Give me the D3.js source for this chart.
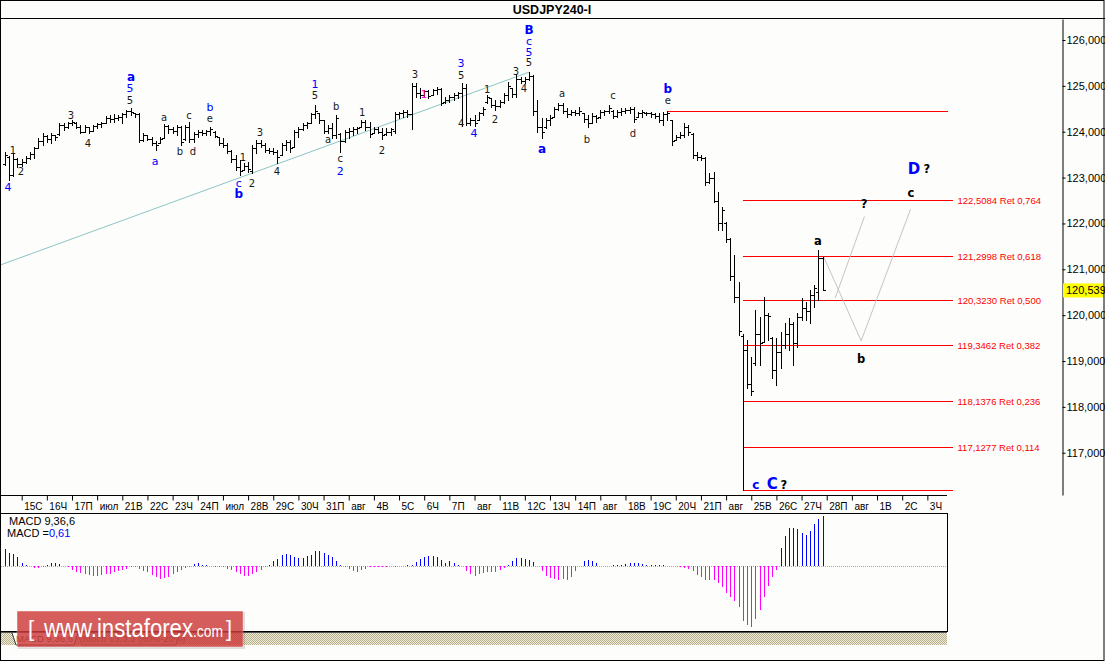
<!DOCTYPE html>
<html><head><meta charset="utf-8">
<script src="https://cdn.jsdelivr.net/npm/d3@7"></script>
<style>
html,body{margin:0;padding:0;background:#fff;}
svg{display:block;font-family:"Liberation Sans",Arial,sans-serif;}
</style></head><body>
<svg id="c" width="1105" height="661"></svg>
<script>
// ---------- DATA ----------
const opens=[123.30,123.45,123.06,123.40,123.30,123.35,123.42,123.52,123.65,123.80,123.90,123.85,123.92,123.95,124.15,124.10,124.18,124.20,124.10,124.00,
124.10,124.02,124.12,124.16,124.19,124.30,124.28,124.30,124.32,124.38,124.45,124.40,124.38,123.82,123.92,123.85,123.75,123.76,123.86,124.12,
124.05,124.02,124.10,123.84,124.10,123.85,123.95,124.00,123.98,124.02,124.00,123.88,123.75,123.72,123.58,123.40,123.22,123.17,123.25,123.15,
123.65,123.75,123.72,123.60,123.58,123.55,123.50,123.70,123.78,123.67,124.00,124.05,124.15,124.19,124.38,124.40,124.25,124.02,124.08,123.92,
123.95,123.80,124.00,124.02,124.05,124.10,124.22,124.10,123.98,124.05,124.00,123.95,124.00,124.02,124.38,124.40,124.42,124.38,125.00,124.85,
124.80,124.88,124.80,124.90,124.93,124.65,124.70,124.75,124.80,124.84,124.95,124.20,124.25,124.25,124.40,124.65,124.74,124.58,124.55,124.65,
124.80,124.95,124.82,125.15,125.10,125.15,125.22,124.45,124.10,124.10,124.25,124.32,124.50,124.58,124.45,124.38,124.42,124.40,124.40,124.28,
124.20,124.35,124.32,124.42,124.45,124.45,124.35,124.42,124.45,124.48,124.50,124.32,124.40,124.40,124.40,124.38,124.34,124.25,124.38,124.25,
123.82,123.88,123.92,124.10,123.95,123.50,123.45,123.42,122.90,123.00,122.50,122.00,122.00,121.65,120.85,120.40,119.55,119.25,118.50,118.95,
119.60,119.42,120.00,119.50,118.80,119.20,119.35,119.60,119.80,119.40,119.95,120.15,120.10,120.45,120.50,121.25];
const highs=[123.56,123.48,123.51,123.43,123.41,123.47,123.56,123.67,123.86,123.97,123.93,123.97,123.93,124.19,124.19,124.21,124.25,124.21,124.15,124.15,
124.10,124.15,124.19,124.21,124.34,124.36,124.39,124.36,124.41,124.47,124.52,124.41,124.41,123.97,123.93,123.88,123.80,123.88,124.17,124.15,
124.10,124.15,124.12,124.15,124.21,123.99,124.04,124.04,124.04,124.10,124.01,123.88,123.86,123.75,123.60,123.49,123.38,123.32,123.34,123.71,
123.82,123.82,123.75,123.64,123.64,123.60,123.75,123.82,123.82,124.04,124.10,124.19,124.21,124.41,124.58,124.41,124.25,124.15,124.19,124.36,
123.97,124.04,124.08,124.10,124.10,124.25,124.25,124.21,124.10,124.10,124.08,124.08,124.08,124.43,124.43,124.47,124.47,125.06,125.06,124.95,
124.91,124.91,124.93,124.97,124.95,124.76,124.80,124.84,124.87,125.06,125.04,124.30,124.36,124.43,124.54,124.80,124.74,124.69,124.69,124.84,
125.08,124.95,125.24,125.19,125.19,125.30,125.24,124.69,124.30,124.30,124.36,124.54,124.63,124.63,124.52,124.47,124.47,124.54,124.41,124.36,
124.41,124.36,124.47,124.47,124.58,124.47,124.47,124.52,124.52,124.54,124.54,124.43,124.47,124.43,124.43,124.41,124.41,124.43,124.46,124.25,
123.93,123.99,124.19,124.15,123.97,123.56,123.49,123.45,123.10,123.12,122.69,122.36,122.03,121.68,121.31,120.72,119.60,119.46,119.09,120.11,
119.96,120.40,120.05,119.52,119.50,119.63,119.83,119.94,119.85,120.05,120.37,120.29,120.55,120.66,121.42,121.27];
const lows=[123.27,122.95,123.04,123.23,123.25,123.32,123.40,123.43,123.64,123.71,123.77,123.75,123.82,123.93,124.04,124.08,124.15,124.08,123.97,123.99,
123.97,124.01,124.08,124.10,124.19,124.21,124.21,124.25,124.19,124.32,124.36,124.32,123.78,123.80,123.82,123.71,123.60,123.75,123.86,123.97,
123.97,123.93,123.71,123.82,123.78,123.78,123.88,123.93,123.93,123.93,123.88,123.71,123.67,123.54,123.34,123.16,123.06,123.16,123.12,123.10,
123.54,123.67,123.56,123.54,123.51,123.32,123.49,123.60,123.56,123.67,123.88,124.04,124.08,124.19,124.30,124.19,123.97,123.97,123.86,123.86,
123.56,123.78,123.86,123.93,123.97,124.10,124.04,123.88,123.97,123.97,123.84,123.93,123.93,123.97,124.30,124.32,124.32,124.06,124.76,124.74,
124.76,124.74,124.80,124.82,124.58,124.63,124.65,124.69,124.74,124.12,124.15,124.15,124.12,124.25,124.36,124.63,124.54,124.47,124.54,124.63,
124.69,124.76,124.76,125.06,125.06,125.13,124.36,123.99,123.86,124.08,124.15,124.32,124.47,124.41,124.32,124.36,124.36,124.36,124.21,124.10,
124.19,124.21,124.30,124.36,124.41,124.30,124.32,124.36,124.41,124.41,124.21,124.32,124.32,124.36,124.32,124.30,124.21,124.15,124.25,123.71,
123.82,123.86,123.88,123.93,123.43,123.38,123.38,122.84,122.88,122.47,121.86,121.86,121.60,120.77,120.29,119.57,116.18,118.41,118.26,118.91,
118.91,119.42,119.46,118.63,118.48,118.85,119.28,119.24,118.91,119.31,119.89,119.89,119.83,120.18,120.33,120.54];
const closes=[123.50,123.05,123.40,123.30,123.35,123.42,123.52,123.65,123.80,123.90,123.85,123.92,123.88,124.15,124.10,124.18,124.22,124.10,124.00,124.10,
124.02,124.12,124.16,124.19,124.30,124.28,124.30,124.32,124.38,124.45,124.42,124.38,123.82,123.92,123.85,123.75,123.70,123.85,124.12,124.05,
124.02,124.10,123.78,124.10,123.85,123.95,124.00,123.98,124.02,124.06,123.90,123.75,123.72,123.58,123.40,123.22,123.15,123.25,123.18,123.65,
123.75,123.72,123.60,123.58,123.55,123.45,123.70,123.78,123.65,124.00,124.05,124.15,124.18,124.38,124.45,124.25,124.02,124.08,123.92,124.30,
123.80,124.00,124.02,124.05,124.08,124.22,124.10,123.95,124.05,124.00,123.92,124.00,124.05,124.38,124.40,124.42,124.38,125.00,124.85,124.80,
124.88,124.78,124.90,124.93,124.62,124.70,124.75,124.80,124.84,124.95,124.20,124.25,124.20,124.40,124.50,124.75,124.58,124.55,124.65,124.80,
125.00,124.82,125.15,125.10,125.15,125.22,124.45,124.10,124.00,124.25,124.30,124.50,124.58,124.45,124.38,124.42,124.40,124.45,124.28,124.20,
124.35,124.30,124.42,124.45,124.52,124.35,124.42,124.45,124.48,124.50,124.28,124.40,124.42,124.40,124.38,124.34,124.25,124.38,124.40,123.80,
123.88,123.92,124.10,124.00,123.50,123.45,123.42,122.90,123.00,122.50,122.00,122.30,121.65,120.85,120.40,119.65,119.25,118.50,118.35,119.60,
119.40,120.00,119.98,118.80,119.20,119.35,119.60,119.80,119.40,119.95,120.15,120.10,120.45,120.60,121.25,120.539];
const macd=[0.205,0.16,0.15,0.11,0.04,0.01,-0.005,-0.025,-0.02,-0.01,0.015,0.03,0.03,0.02,-0.005,-0.015,-0.05,-0.075,-0.09,-0.105,
-0.115,-0.12,-0.12,-0.115,-0.105,-0.095,-0.08,-0.065,-0.05,-0.035,-0.015,-0.01,-0.035,-0.06,-0.08,-0.115,-0.14,-0.155,-0.145,-0.135,
-0.105,-0.075,-0.055,-0.025,-0.01,0.025,0.035,0.015,0.005,0,-0.01,-0.015,-0.015,-0.035,-0.055,-0.08,-0.105,-0.12,-0.12,-0.105,
-0.08,-0.05,-0.015,0.015,0.055,0.09,0.13,0.15,0.13,0.105,0.1,0.1,0.12,0.14,0.18,0.18,0.155,0.13,0.105,0.065,
0.015,-0.01,-0.035,-0.065,-0.075,-0.05,-0.035,-0.015,-0.01,-0.01,-0.015,-0.01,-0.005,-0.015,-0.005,0,0.01,0.015,0.05,0.09,
0.115,0.125,0.125,0.105,0.075,0.04,0.055,0.035,0.01,0,-0.065,-0.1,-0.12,-0.105,-0.09,-0.08,-0.08,-0.075,-0.05,-0.03,
0.01,0.057,0.1,0.1,0.08,0.07,0.045,0,-0.065,-0.12,-0.15,-0.165,-0.175,-0.165,-0.175,-0.135,-0.065,0,0.057,0.07,
0.057,0.033,0,0.004,0.004,0.016,0.008,0.008,0.025,0.033,0.033,0.033,0.025,0.016,0.008,0.008,0.008,0.008,0.004,0.004,
0,-0.012,-0.025,-0.04,-0.065,-0.115,-0.135,-0.175,-0.175,-0.175,-0.21,-0.26,-0.335,-0.38,-0.435,-0.5,-0.68,-0.73,-0.75,-0.65,
-0.545,-0.38,-0.245,-0.135,-0.055,0.22,0.365,0.47,0.46,0.45,0.4,0.385,0.425,0.51,0.58,0.61];
const dayLabels=["15С","16Ч","17П","июл","21В","22С","23Ч","24П","июл","28В","29С","30Ч","31П","авг","4В","5С","6Ч","7П","авг","11В","12С","13Ч","14П","авг","18В","19С","20Ч","21П","авг","25В","26С","27Ч","28П","авг","1В","2С","3Ч"];
const yTicks=[117,118,119,120,121,122,123,124,125,126];
const lastPrice=120.539;
const fibLevels=[122.5084,121.2998,120.3230,119.3462,118.1376,117.1277];
const fibRatios=["0,764","0,618","0,500","0,382","0,236","0,114"];
const fibHigh=124.462, fibLow=116.184;
const trendline=[[-1.2,121.09],[125,125.30]];
const projA=[[195.3,121.27],[204.2,119.44],[216.0,122.31]];
const projB=[[198.0,120.37],[205.0,122.15]];
// wave labels: [bar index, price, text, style]
const waveLabels=[
[0.74,122.79,"4","u"],[1.93,123.58,"1","k"],[3.84,123.14,"2","k"],[15.76,124.36,"3","k"],[19.82,123.75,"4","k"],
[30.07,125.19,"a","U"],[29.84,124.95,"5","u"],[29.84,124.69,"5","k"],[37.94,124.30,"a","k"],[35.8,123.36,"a","u"],
[43.9,124.36,"c","k"],[41.76,123.56,"b","k"],[44.86,123.56,"d","k"],[48.9,124.52,"b","u"],[48.9,124.28,"e","k"],
[56.8,123.43,"1","k"],[55.8,122.88,"c","u"],[55.8,122.64,"b","U"],[58.9,122.88,"2","k"],[60.8,123.99,"3","k"],
[64.9,123.14,"4","k"],[73.95,125.04,"1","u"],[73.95,124.78,"5","k"],[79.0,124.54,"b","k"],[77.1,123.82,"a","k"],
[80.0,123.41,"c","k"],[80.0,123.14,"2","u"],[85.2,124.41,"1","k"],[89.9,123.60,"2","k"],[97.8,125.24,"3","k"],
[99.95,124.82,"1","m"],[108.8,125.48,"3","u"],[108.8,125.22,"5","k"],[108.8,124.19,"4","k"],[111.9,123.97,"4","u"],
[115.0,124.93,"1","k"],[116.9,124.26,"2","k"],[121.9,125.32,"3","k"],[123.8,124.95,"4","k"],
[125.0,126.22,"B","U"],[125.0,125.96,"c","u"],[125.0,125.72,"5","u"],[125.0,125.52,"5","k"],
[128.1,123.62,"a","U"],[132.9,124.84,"a","k"],[138.8,123.84,"b","k"],[145.0,124.78,"c","k"],[149.8,123.97,"d","k"],
[158.1,124.93,"b","U"],[158.1,124.67,"e","k"],
[193.9,121.62,"a","K"],[204.9,122.42,"?","K"],[204.2,119.04,"b","K"],[216.1,122.66,"c","K"],
[216.8,123.19,"D","L"],[219.9,123.19,"?","K"],[179.1,116.30,"c","U"],[183.0,116.32,"C","L"],[185.8,116.30,"?","K"]
];

// ---------- SCALES ----------
const W=1105,H=661;
const xS=d3.scaleLinear().domain([0,220]).range([4.9,927.36]);
const yS=d3.scaleLinear().domain([116.0785,126.4579]).range([495,19]);
const yM=d3.scaleLinear().domain([-0.80,0.65]).range([631,513]);
const fmt3=d=>d3.format(".3f")(d).replace(".",",");
const fmt4=d=>d3.format(".4f")(d).replace(".",",");

const svg=d3.select("#c");
svg.append("rect").attr("width",W).attr("height",H).attr("fill","#fdfefb");

const defs=svg.append("defs");
defs.append("clipPath").attr("id","main").append("rect").attr("x",1).attr("y",19).attr("width",1061).attr("height",476);
const pat=defs.append("pattern").attr("id","hatch").attr("width",2).attr("height",2).attr("patternUnits","userSpaceOnUse");
pat.append("rect").attr("width",2).attr("height",2).attr("fill","#eeead6");
pat.append("rect").attr("width",1).attr("height",1).attr("fill","#b8b190");
pat.append("rect").attr("x",1).attr("y",1).attr("width",1).attr("height",1).attr("fill","#b8b190");

// ---------- TITLE ----------
svg.append("text").attr("x",552).attr("y",10).attr("text-anchor","middle").attr("dominant-baseline","central")
  .attr("font-weight","bold").attr("font-size",12.5).attr("fill","#000").text("USDJPY240-I");
svg.append("line").attr("x1",0).attr("x2",W).attr("y1",18.5).attr("y2",18.5).attr("stroke","#000");

// ---------- MAIN CHART ----------
const main=svg.append("g").attr("clip-path","url(#main)");
// trendline
main.append("line")
  .attr("x1",xS(trendline[0][0])).attr("y1",yS(trendline[0][1]))
  .attr("x2",xS(trendline[1][0])).attr("y2",yS(trendline[1][1]))
  .attr("stroke","#8cc4c4").attr("stroke-width",1);
// fib lines
const fx0=xS(176), fx1=xS(226);
main.append("line").attr("x1",Math.round(xS(158))).attr("x2",Math.round(xS(225)))
  .attr("y1",Math.round(yS(fibHigh))+0.5).attr("y2",Math.round(yS(fibHigh))+0.5).attr("stroke","#ff0000");
main.append("line").attr("x1",Math.round(fx0)).attr("x2",Math.round(fx1))
  .attr("y1",Math.round(yS(fibLow))+0.5).attr("y2",Math.round(yS(fibLow))+0.5).attr("stroke","#ff0000");
fibLevels.forEach((lv,k)=>{
  const y=Math.round(yS(lv))+0.5;
  main.append("line").attr("x1",Math.round(fx0)).attr("x2",Math.round(fx1)).attr("y1",y).attr("y2",y).attr("stroke","#ff0000");
  main.append("text").attr("x",fx1+5).attr("y",y).attr("dominant-baseline","central")
    .attr("font-size",9.5).attr("fill","#ff0000").text(fmt4(lv)+" Ret "+fibRatios[k]);
});
// projection lines
const ln=d3.line().x(d=>xS(d[0])).y(d=>yS(d[1]));
main.append("path").attr("d",ln(projA)).attr("fill","none").attr("stroke","#c4c4c4");
main.append("path").attr("d",ln(projB)).attr("fill","none").attr("stroke","#c4c4c4");

// OHLC bars
const bars=main.append("g").attr("stroke","#000").attr("stroke-width",1).attr("shape-rendering","crispEdges");
opens.forEach((o,i)=>{
  const x=Math.round(xS(i))+0.5;
  bars.append("line").attr("x1",x).attr("x2",x).attr("y1",Math.round(yS(highs[i]))).attr("y2",Math.round(yS(lows[i]))+1);
  const yo=Math.round(yS(o))+0.5, yc=Math.round(yS(closes[i]))+0.5;
  bars.append("line").attr("x1",x-2.5).attr("x2",x).attr("y1",yo).attr("y2",yo);
  bars.append("line").attr("x1",x).attr("x2",x+2.5).attr("y1",yc).attr("y2",yc);
});

// wave labels
const st={
  k:{c:"#1a1a1a",s:10,w:"normal"},
  u:{c:"#0000ff",s:11,w:"normal"},
  U:{c:"#0000ff",s:12,w:"bold"},
  K:{c:"#000",s:11.5,w:"bold"},
  L:{c:"#0000ff",s:15,w:"bold"},
  m:{c:"#ff00ff",s:10,w:"normal"}
};
main.append("g").selectAll("text").data(waveLabels).join("text")
  .attr("x",d=>xS(d[0])).attr("y",d=>yS(d[1]))
  .attr("text-anchor","middle").attr("dominant-baseline","central")
  .attr("font-family","DejaVu Sans, Verdana, sans-serif")
  .attr("fill",d=>st[d[3]].c).attr("font-size",d=>st[d[3]].s).attr("font-weight",d=>st[d[3]].w)
  .text(d=>d[2]);

// right price axis
const yAxis=d3.axisRight(yS).tickValues(yTicks).tickSize(3).tickSizeOuter(0).tickPadding(1).tickFormat(fmt3);
const gy=svg.append("g").attr("transform","translate(1062.5,0)").call(yAxis);
gy.attr("font-family",null).attr("font-size",null);
gy.selectAll("text").attr("font-size",11).attr("fill","#000").attr("font-family","Liberation Sans, Arial, sans-serif");
gy.selectAll("line,path").attr("stroke","#000");
// current price tag
const yp=yS(lastPrice);
svg.append("rect").attr("x",1063).attr("y",yp-7).attr("width",41).attr("height",14).attr("fill","#ffff00");
svg.append("text").attr("x",1066).attr("y",yp).attr("dominant-baseline","central").attr("font-size",11)
  .attr("fill","#000").text(fmt3(lastPrice));

// ---------- DATE AXIS ----------
svg.append("line").attr("x1",0).attr("x2",947).attr("y1",495.5).attr("y2",495.5).attr("stroke","#000");
const tickIdx=dayLabels.map((d,k)=>4+6*k);
const xAxis=d3.axisBottom(xS).tickValues(tickIdx).tickSize(5).tickFormat((d,k)=>dayLabels[k]);
const gx=svg.append("g").attr("transform","translate(0,495.5)").call(xAxis);
gx.select(".domain").remove();
gx.attr("font-family",null).attr("font-size",null);
gx.selectAll(".tick line").attr("stroke","#000");
gx.selectAll(".tick text").attr("text-anchor","start").attr("x",2).attr("y",14).attr("dy",null)
  .attr("font-size",10).attr("fill","#000").attr("font-family","Liberation Sans, Arial, sans-serif");

// ---------- MACD PANEL ----------
svg.append("rect").attr("x",0.5).attr("y",513.5).attr("width",947).attr("height",118).attr("fill","#fdfefb").attr("stroke","#000");
svg.append("line").attr("x1",1).attr("x2",947).attr("y1",Math.round(yM(0))+0.5).attr("y2",Math.round(yM(0))+0.5)
  .attr("stroke","#a8a8a8").attr("stroke-dasharray","1,1");
const mg=svg.append("g").attr("shape-rendering","crispEdges");
macd.forEach((v,i)=>{
  if(v===0) return;
  const x=Math.round(xS(i))+0.5;
  mg.append("line").attr("x1",x).attr("x2",x).attr("y1",yM(0)).attr("y2",yM(v))
    .attr("stroke",v>0?"#0000ff":"#ff00ff").attr("stroke-width",1);
});
svg.append("text").attr("x",9).attr("y",525).attr("font-size",11).attr("fill","#000").text("MACD 9,36,6");
const mt=svg.append("text").attr("x",7).attr("y",537).attr("font-size",11).attr("fill","#000");
mt.append("tspan").text("MACD =");
mt.append("tspan").attr("fill","#0000ff").text(d3.format(".2f")(macd[macd.length-1]).replace(".",","));

// bottom strip
svg.append("line").attr("x1",0).attr("x2",947).attr("y1",632.5).attr("y2",632.5).attr("stroke","#555").attr("stroke-width",1);
svg.append("rect").attr("x",1).attr("y",633).attr("width",946).attr("height",12).attr("fill","url(#hatch)");
svg.append("path").attr("d","M12,633 L16,645 L74,645 L78,633").attr("fill","#fdfefb").attr("stroke","#333");
svg.append("text").attr("x",16).attr("y",642).attr("font-size",9.5).attr("fill","#333").text("MACD 9,36,6");
svg.append("path").attr("d","M78,633 L82,645 L176,645 L180,633").attr("fill","none").attr("stroke","#666");
svg.append("text").attr("x",82).attr("y",642).attr("font-size",9.5).attr("fill","#555").text("Stoch 13,3,3 (80%-20%)");

// watermark
const wm=svg.append("g");
wm.append("rect").attr("x",18).attr("y",612).attr("width",227).attr("height",37).attr("fill","#000").attr("opacity",0.12);
wm.append("rect").attr("x",17).attr("y",611).attr("width",226).attr("height",36).attr("rx",1)
  .attr("fill","rgb(212,62,62)").attr("opacity",0.8).attr("stroke","rgba(255,255,255,0.35)");
wm.append("text").attr("x",28).attr("y",636).attr("font-size",22).attr("fill","#fff").text("[");
wm.append("text").attr("x",44).attr("y",637).attr("font-size",25).attr("fill","#fff")
  .attr("textLength",149).attr("lengthAdjust","spacingAndGlyphs").text("www.instaforex");
wm.append("text").attr("x",193).attr("y",637).attr("font-size",17).attr("fill","#fff")
  .attr("textLength",30).attr("lengthAdjust","spacingAndGlyphs").text(".com");
wm.append("text").attr("x",226).attr("y",636).attr("font-size",22).attr("fill","#fff").text("]");

// outer frame
svg.append("rect").attr("x",0.5).attr("y",0.5).attr("width",W-1.5).attr("height",H-1).attr("fill","none").attr("stroke","#000");
</script>
</body></html>
